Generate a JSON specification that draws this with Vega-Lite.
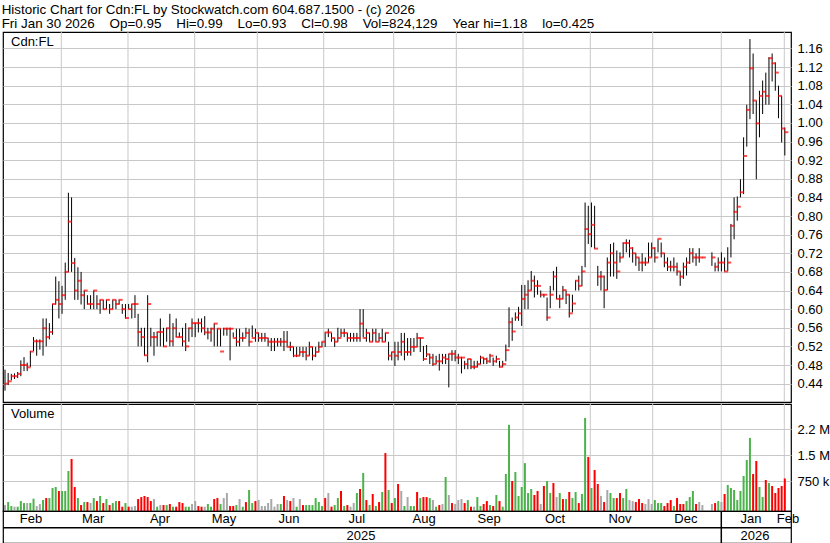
{
"$schema":"https://vega.github.io/schema/vega-lite/v6.json",
"padding":{"left":1,"top":2,"right":0,"bottom":0},
"background":"white",
"title":{"text":["Historic Chart for Cdn:FL by Stockwatch.com 604.687.1500 - (c) 2026","Fri Jan 30 2026 \u00a0\u00a0\u00a0Op=0.95 \u00a0\u00a0\u00a0Hi=0.99 \u00a0\u00a0\u00a0Lo=0.93 \u00a0\u00a0\u00a0Cl=0.98 \u00a0\u00a0\u00a0Vol=824,129 \u00a0\u00a0\u00a0Year hi=1.18 \u00a0\u00a0\u00a0lo=0.425"],"anchor":"start","font":"Liberation Sans","fontSize":13.4,"fontWeight":"normal","lineHeight":14,"color":"black","offset":1},
"config":{"view":{"stroke":"black","strokeWidth":1.2},"font":"Liberation Sans","axis":{"labelOverlap":false,"labelFontSize":13,"labelColor":"black","labelFont":"Liberation Sans","domain":false,"ticks":false,"gridColor":"#c8c8c8","gridWidth":1,"labelPadding":6,"title":null}},
"datasets":{
"grid":[{"g":17.76},{"g":38.80},{"g":59.84},{"g":79.59},{"g":100.54},{"g":122.62},{"g":142.37},{"g":163.41},{"g":184.64},{"g":204.32},{"g":225.96},{"g":245.84}],
"mlab":[{"m":8.2,"n":"Feb"},{"m":27.8,"n":"Mar"},{"m":48.9,"n":"Apr"},{"m":69.1,"n":"May"},{"m":89.6,"n":"Jun"},{"m":111.0,"n":"Jul"},{"m":132.2,"n":"Aug"},{"m":152.7,"n":"Sep"},{"m":173.5,"n":"Oct"},{"m":194.0,"n":"Nov"},{"m":214.8,"n":"Dec"},{"m":235.3,"n":"Jan"},{"m":247.0,"n":"Feb"}],
"ylab":[{"m":112.3,"n":"2025"},{"m":236.6,"n":"2026"}],
"bars":[
{"t":0,"l":0.425,"h":0.47,"c":0.44,"v":53000,"d":"n"},
{"t":1,"l":0.437,"h":0.463,"c":0.445,"v":140000,"d":"u"},
{"t":2,"l":0.447,"h":0.461,"c":0.456,"v":24000,"d":"u"},
{"t":3,"l":0.45,"h":0.462,"c":0.456,"v":5000,"d":"n"},
{"t":4,"l":0.452,"h":0.465,"c":0.461,"v":5000,"d":"u"},
{"t":5,"l":0.456,"h":0.49,"c":0.48,"v":169000,"d":"u"},
{"t":6,"l":0.467,"h":0.497,"c":0.48,"v":111000,"d":"u"},
{"t":7,"l":0.467,"h":0.485,"c":0.475,"v":111000,"d":"n"},
{"t":8,"l":0.476,"h":0.51,"c":0.509,"v":111000,"d":"u"},
{"t":9,"l":0.51,"h":0.54,"c":0.531,"v":237000,"d":"u"},
{"t":10,"l":0.5,"h":0.535,"c":0.531,"v":24000,"d":"n"},
{"t":11,"l":0.513,"h":0.535,"c":0.531,"v":82000,"d":"n"},
{"t":12,"l":0.5,"h":0.58,"c":0.559,"v":198000,"d":"u"},
{"t":13,"l":0.52,"h":0.58,"c":0.54,"v":256000,"d":"d"},
{"t":14,"l":0.535,"h":0.57,"c":0.551,"v":256000,"d":"u"},
{"t":15,"l":0.545,"h":0.611,"c":0.611,"v":547000,"d":"u"},
{"t":16,"l":0.61,"h":0.67,"c":0.62,"v":576000,"d":"u"},
{"t":17,"l":0.58,"h":0.66,"c":0.611,"v":460000,"d":"d"},
{"t":18,"l":0.59,"h":0.65,"c":0.63,"v":460000,"d":"u"},
{"t":19,"l":0.62,"h":0.7,"c":0.68,"v":460000,"d":"u"},
{"t":20,"l":0.68,"h":0.85,"c":0.788,"v":1040000,"d":"u"},
{"t":21,"l":0.68,"h":0.84,"c":0.699,"v":1390000,"d":"d"},
{"t":22,"l":0.62,"h":0.71,"c":0.64,"v":576000,"d":"d"},
{"t":23,"l":0.62,"h":0.69,"c":0.661,"v":256000,"d":"u"},
{"t":24,"l":0.61,"h":0.68,"c":0.63,"v":53000,"d":"d"},
{"t":25,"l":0.6,"h":0.64,"c":0.64,"v":140000,"d":"u"},
{"t":26,"l":0.61,"h":0.63,"c":0.611,"v":140000,"d":"d"},
{"t":27,"l":0.6,"h":0.63,"c":0.611,"v":111000,"d":"n"},
{"t":28,"l":0.6,"h":0.64,"c":0.64,"v":256000,"d":"u"},
{"t":29,"l":0.6,"h":0.63,"c":0.611,"v":169000,"d":"d"},
{"t":30,"l":0.59,"h":0.62,"c":0.62,"v":315000,"d":"u"},
{"t":31,"l":0.6,"h":0.62,"c":0.6,"v":111000,"d":"d"},
{"t":32,"l":0.6,"h":0.62,"c":0.62,"v":227000,"d":"u"},
{"t":33,"l":0.59,"h":0.611,"c":0.6,"v":53000,"d":"d"},
{"t":34,"l":0.6,"h":0.62,"c":0.62,"v":111000,"d":"u"},
{"t":35,"l":0.6,"h":0.62,"c":0.611,"v":169000,"d":"u"},
{"t":36,"l":0.61,"h":0.62,"c":0.62,"v":169000,"d":"d"},
{"t":37,"l":0.59,"h":0.611,"c":0.6,"v":5000,"d":"d"},
{"t":38,"l":0.58,"h":0.611,"c":0.581,"v":111000,"d":"u"},
{"t":39,"l":0.6,"h":0.611,"c":0.6,"v":5000,"d":"d"},
{"t":40,"l":0.58,"h":0.611,"c":0.611,"v":5000,"d":"n"},
{"t":41,"l":0.581,"h":0.63,"c":0.611,"v":24000,"d":"n"},
{"t":42,"l":0.52,"h":0.59,"c":0.551,"v":227000,"d":"d"},
{"t":43,"l":0.52,"h":0.56,"c":0.54,"v":285000,"d":"d"},
{"t":44,"l":0.5,"h":0.56,"c":0.501,"v":315000,"d":"d"},
{"t":45,"l":0.486,"h":0.63,"c":0.611,"v":285000,"d":"d"},
{"t":46,"l":0.52,"h":0.56,"c":0.54,"v":169000,"d":"d"},
{"t":47,"l":0.5,"h":0.551,"c":0.54,"v":227000,"d":"n"},
{"t":48,"l":0.52,"h":0.551,"c":0.551,"v":5000,"d":"u"},
{"t":49,"l":0.52,"h":0.58,"c":0.551,"v":53000,"d":"n"},
{"t":50,"l":0.52,"h":0.56,"c":0.52,"v":53000,"d":"d"},
{"t":51,"l":0.53,"h":0.56,"c":0.559,"v":53000,"d":"u"},
{"t":52,"l":0.52,"h":0.59,"c":0.531,"v":82000,"d":"d"},
{"t":53,"l":0.52,"h":0.57,"c":0.559,"v":5000,"d":"u"},
{"t":54,"l":0.54,"h":0.58,"c":0.54,"v":5000,"d":"d"},
{"t":55,"l":0.54,"h":0.55,"c":0.54,"v":140000,"d":"d"},
{"t":56,"l":0.52,"h":0.56,"c":0.531,"v":111000,"d":"d"},
{"t":57,"l":0.51,"h":0.57,"c":0.52,"v":5000,"d":"u"},
{"t":58,"l":0.53,"h":0.56,"c":0.559,"v":5000,"d":"u"},
{"t":59,"l":0.54,"h":0.58,"c":0.57,"v":82000,"d":"n"},
{"t":60,"l":0.54,"h":0.57,"c":0.57,"v":169000,"d":"n"},
{"t":61,"l":0.55,"h":0.58,"c":0.57,"v":24000,"d":"d"},
{"t":62,"l":0.55,"h":0.58,"c":0.559,"v":5000,"d":"d"},
{"t":63,"l":0.544,"h":0.585,"c":0.55,"v":5000,"d":"n"},
{"t":64,"l":0.535,"h":0.56,"c":0.55,"v":82000,"d":"u"},
{"t":65,"l":0.53,"h":0.56,"c":0.558,"v":5000,"d":"u"},
{"t":66,"l":0.52,"h":0.569,"c":0.569,"v":227000,"d":"d"},
{"t":67,"l":0.52,"h":0.558,"c":0.558,"v":256000,"d":"d"},
{"t":68,"l":0.52,"h":0.558,"c":0.509,"v":82000,"d":"u"},
{"t":69,"l":0.543,"h":0.56,"c":0.558,"v":256000,"d":"n"},
{"t":70,"l":0.543,"h":0.56,"c":0.558,"v":402000,"d":"n"},
{"t":71,"l":0.49,"h":0.56,"c":0.558,"v":24000,"d":"d"},
{"t":72,"l":0.54,"h":0.55,"c":0.538,"v":24000,"d":"d"},
{"t":73,"l":0.52,"h":0.558,"c":0.53,"v":53000,"d":"u"},
{"t":74,"l":0.52,"h":0.558,"c":0.538,"v":227000,"d":"n"},
{"t":75,"l":0.53,"h":0.55,"c":0.538,"v":5000,"d":"u"},
{"t":76,"l":0.54,"h":0.56,"c":0.549,"v":140000,"d":"d"},
{"t":77,"l":0.52,"h":0.558,"c":0.53,"v":489000,"d":"u"},
{"t":78,"l":0.54,"h":0.565,"c":0.538,"v":111000,"d":"u"},
{"t":79,"l":0.53,"h":0.558,"c":0.549,"v":169000,"d":"d"},
{"t":80,"l":0.53,"h":0.549,"c":0.538,"v":198000,"d":"n"},
{"t":81,"l":0.53,"h":0.549,"c":0.538,"v":24000,"d":"n"},
{"t":82,"l":0.53,"h":0.549,"c":0.538,"v":24000,"d":"n"},
{"t":83,"l":0.52,"h":0.538,"c":0.53,"v":111000,"d":"n"},
{"t":84,"l":0.51,"h":0.538,"c":0.53,"v":227000,"d":"n"},
{"t":85,"l":0.51,"h":0.538,"c":0.53,"v":5000,"d":"n"},
{"t":86,"l":0.52,"h":0.538,"c":0.53,"v":82000,"d":"n"},
{"t":87,"l":0.52,"h":0.538,"c":0.53,"v":82000,"d":"u"},
{"t":88,"l":0.51,"h":0.553,"c":0.53,"v":315000,"d":"d"},
{"t":89,"l":0.52,"h":0.553,"c":0.519,"v":198000,"d":"n"},
{"t":90,"l":0.51,"h":0.53,"c":0.519,"v":169000,"d":"d"},
{"t":91,"l":0.497,"h":0.519,"c":0.5,"v":256000,"d":"n"},
{"t":92,"l":0.497,"h":0.519,"c":0.5,"v":5000,"d":"u"},
{"t":93,"l":0.5,"h":0.519,"c":0.508,"v":227000,"d":"n"},
{"t":94,"l":0.497,"h":0.519,"c":0.508,"v":53000,"d":"d"},
{"t":95,"l":0.49,"h":0.519,"c":0.5,"v":53000,"d":"u"},
{"t":96,"l":0.5,"h":0.53,"c":0.519,"v":53000,"d":"u"},
{"t":97,"l":0.49,"h":0.519,"c":0.5,"v":53000,"d":"u"},
{"t":98,"l":0.497,"h":0.519,"c":0.508,"v":256000,"d":"u"},
{"t":99,"l":0.508,"h":0.53,"c":0.519,"v":140000,"d":"u"},
{"t":100,"l":0.519,"h":0.53,"c":0.53,"v":24000,"d":"u"},
{"t":101,"l":0.519,"h":0.55,"c":0.55,"v":256000,"d":"d"},
{"t":102,"l":0.54,"h":0.558,"c":0.55,"v":402000,"d":"n"},
{"t":103,"l":0.53,"h":0.549,"c":0.538,"v":5000,"d":"d"},
{"t":104,"l":0.519,"h":0.538,"c":0.53,"v":53000,"d":"u"},
{"t":105,"l":0.53,"h":0.56,"c":0.538,"v":256000,"d":"u"},
{"t":106,"l":0.54,"h":0.558,"c":0.549,"v":460000,"d":"d"},
{"t":107,"l":0.54,"h":0.558,"c":0.549,"v":24000,"d":"u"},
{"t":108,"l":0.53,"h":0.549,"c":0.538,"v":53000,"d":"d"},
{"t":109,"l":0.53,"h":0.549,"c":0.538,"v":5000,"d":"n"},
{"t":110,"l":0.53,"h":0.549,"c":0.538,"v":111000,"d":"n"},
{"t":111,"l":0.53,"h":0.549,"c":0.538,"v":402000,"d":"u"},
{"t":112,"l":0.53,"h":0.6,"c":0.569,"v":518000,"d":"d"},
{"t":113,"l":0.54,"h":0.6,"c":0.538,"v":982000,"d":"u"},
{"t":114,"l":0.53,"h":0.558,"c":0.549,"v":198000,"d":"d"},
{"t":115,"l":0.53,"h":0.549,"c":0.53,"v":53000,"d":"u"},
{"t":116,"l":0.53,"h":0.558,"c":0.549,"v":373000,"d":"d"},
{"t":117,"l":0.53,"h":0.558,"c":0.53,"v":24000,"d":"u"},
{"t":118,"l":0.53,"h":0.549,"c":0.538,"v":140000,"d":"d"},
{"t":119,"l":0.53,"h":0.558,"c":0.53,"v":431000,"d":"u"},
{"t":120,"l":0.53,"h":0.549,"c":0.549,"v":1560000,"d":"d"},
{"t":121,"l":0.49,"h":0.53,"c":0.5,"v":489000,"d":"u"},
{"t":122,"l":0.49,"h":0.508,"c":0.508,"v":111000,"d":"d"},
{"t":123,"l":0.478,"h":0.53,"c":0.5,"v":256000,"d":"u"},
{"t":124,"l":0.49,"h":0.53,"c":0.508,"v":663000,"d":"d"},
{"t":125,"l":0.5,"h":0.549,"c":0.53,"v":460000,"d":"n"},
{"t":126,"l":0.49,"h":0.549,"c":0.508,"v":24000,"d":"u"},
{"t":127,"l":0.5,"h":0.538,"c":0.508,"v":285000,"d":"n"},
{"t":128,"l":0.5,"h":0.538,"c":0.519,"v":24000,"d":"u"},
{"t":129,"l":0.508,"h":0.538,"c":0.519,"v":24000,"d":"u"},
{"t":130,"l":0.519,"h":0.549,"c":0.538,"v":431000,"d":"d"},
{"t":131,"l":0.508,"h":0.538,"c":0.538,"v":256000,"d":"u"},
{"t":132,"l":0.489,"h":0.521,"c":0.493,"v":285000,"d":"d"},
{"t":133,"l":0.497,"h":0.523,"c":0.503,"v":285000,"d":"d"},
{"t":134,"l":0.482,"h":0.504,"c":0.496,"v":256000,"d":"u"},
{"t":135,"l":0.478,"h":0.504,"c":0.482,"v":198000,"d":"n"},
{"t":136,"l":0.482,"h":0.5,"c":0.488,"v":5000,"d":"u"},
{"t":137,"l":0.468,"h":0.504,"c":0.488,"v":53000,"d":"d"},
{"t":138,"l":0.482,"h":0.504,"c":0.496,"v":82000,"d":"n"},
{"t":139,"l":0.482,"h":0.504,"c":0.493,"v":866000,"d":"u"},
{"t":140,"l":0.432,"h":0.504,"c":0.504,"v":344000,"d":"n"},
{"t":141,"l":0.489,"h":0.512,"c":0.504,"v":111000,"d":"d"},
{"t":142,"l":0.488,"h":0.512,"c":0.496,"v":82000,"d":"n"},
{"t":143,"l":0.482,"h":0.504,"c":0.496,"v":198000,"d":"n"},
{"t":144,"l":0.462,"h":0.497,"c":0.496,"v":227000,"d":"n"},
{"t":145,"l":0.471,"h":0.489,"c":0.482,"v":111000,"d":"d"},
{"t":146,"l":0.471,"h":0.493,"c":0.493,"v":198000,"d":"u"},
{"t":147,"l":0.471,"h":0.493,"c":0.476,"v":5000,"d":"d"},
{"t":148,"l":0.471,"h":0.489,"c":0.476,"v":5000,"d":"n"},
{"t":149,"l":0.475,"h":0.489,"c":0.482,"v":285000,"d":"u"},
{"t":150,"l":0.482,"h":0.5,"c":0.496,"v":24000,"d":"u"},
{"t":151,"l":0.482,"h":0.496,"c":0.493,"v":82000,"d":"d"},
{"t":152,"l":0.482,"h":0.496,"c":0.488,"v":169000,"d":"d"},
{"t":153,"l":0.485,"h":0.504,"c":0.5,"v":53000,"d":"u"},
{"t":154,"l":0.478,"h":0.496,"c":0.488,"v":24000,"d":"d"},
{"t":155,"l":0.485,"h":0.5,"c":0.493,"v":344000,"d":"u"},
{"t":156,"l":0.475,"h":0.489,"c":0.476,"v":169000,"d":"d"},
{"t":157,"l":0.476,"h":0.489,"c":0.482,"v":5000,"d":"u"},
{"t":158,"l":0.488,"h":0.524,"c":0.512,"v":953000,"d":"u"},
{"t":159,"l":0.518,"h":0.604,"c":0.572,"v":2380000,"d":"u"},
{"t":160,"l":0.532,"h":0.582,"c":0.552,"v":750000,"d":"d"},
{"t":161,"l":0.575,"h":0.593,"c":0.582,"v":1010000,"d":"u"},
{"t":162,"l":0.575,"h":0.605,"c":0.591,"v":315000,"d":"u"},
{"t":163,"l":0.564,"h":0.652,"c":0.622,"v":576000,"d":"u"},
{"t":164,"l":0.6,"h":0.652,"c":0.631,"v":1270000,"d":"u"},
{"t":165,"l":0.6,"h":0.662,"c":0.64,"v":402000,"d":"u"},
{"t":166,"l":0.64,"h":0.682,"c":0.661,"v":518000,"d":"u"},
{"t":167,"l":0.625,"h":0.672,"c":0.65,"v":344000,"d":"d"},
{"t":168,"l":0.631,"h":0.662,"c":0.65,"v":460000,"d":"d"},
{"t":169,"l":0.625,"h":0.64,"c":0.631,"v":82000,"d":"n"},
{"t":170,"l":0.625,"h":0.632,"c":0.631,"v":605000,"d":"d"},
{"t":171,"l":0.575,"h":0.625,"c":0.582,"v":750000,"d":"u"},
{"t":172,"l":0.602,"h":0.65,"c":0.631,"v":402000,"d":"u"},
{"t":173,"l":0.64,"h":0.682,"c":0.67,"v":692000,"d":"d"},
{"t":174,"l":0.622,"h":0.691,"c":0.622,"v":285000,"d":"n"},
{"t":175,"l":0.602,"h":0.631,"c":0.622,"v":402000,"d":"u"},
{"t":176,"l":0.622,"h":0.65,"c":0.641,"v":227000,"d":"d"},
{"t":177,"l":0.611,"h":0.64,"c":0.631,"v":227000,"d":"u"},
{"t":178,"l":0.582,"h":0.632,"c":0.591,"v":431000,"d":"d"},
{"t":179,"l":0.593,"h":0.631,"c":0.612,"v":256000,"d":"u"},
{"t":180,"l":0.64,"h":0.662,"c":0.661,"v":431000,"d":"u"},
{"t":181,"l":0.64,"h":0.672,"c":0.65,"v":111000,"d":"d"},
{"t":182,"l":0.65,"h":0.693,"c":0.681,"v":373000,"d":"u"},
{"t":183,"l":0.69,"h":0.829,"c":0.772,"v":2580000,"d":"u"},
{"t":184,"l":0.74,"h":0.822,"c":0.761,"v":1450000,"d":"d"},
{"t":185,"l":0.733,"h":0.829,"c":0.781,"v":547000,"d":"u"},
{"t":186,"l":0.73,"h":0.822,"c":0.73,"v":1070000,"d":"d"},
{"t":187,"l":0.65,"h":0.693,"c":0.67,"v":663000,"d":"d"},
{"t":188,"l":0.64,"h":0.682,"c":0.67,"v":315000,"d":"n"},
{"t":189,"l":0.602,"h":0.672,"c":0.641,"v":140000,"d":"d"},
{"t":190,"l":0.641,"h":0.711,"c":0.7,"v":489000,"d":"n"},
{"t":191,"l":0.67,"h":0.74,"c":0.72,"v":402000,"d":"u"},
{"t":192,"l":0.67,"h":0.743,"c":0.7,"v":256000,"d":"u"},
{"t":193,"l":0.665,"h":0.726,"c":0.681,"v":256000,"d":"d"},
{"t":194,"l":0.7,"h":0.722,"c":0.711,"v":402000,"d":"d"},
{"t":195,"l":0.711,"h":0.743,"c":0.742,"v":256000,"d":"u"},
{"t":196,"l":0.722,"h":0.75,"c":0.742,"v":518000,"d":"u"},
{"t":197,"l":0.711,"h":0.749,"c":0.731,"v":198000,"d":"n"},
{"t":198,"l":0.7,"h":0.733,"c":0.72,"v":169000,"d":"n"},
{"t":199,"l":0.693,"h":0.72,"c":0.711,"v":140000,"d":"d"},
{"t":200,"l":0.682,"h":0.711,"c":0.7,"v":227000,"d":"d"},
{"t":201,"l":0.681,"h":0.72,"c":0.7,"v":111000,"d":"d"},
{"t":202,"l":0.693,"h":0.711,"c":0.7,"v":82000,"d":"n"},
{"t":203,"l":0.7,"h":0.743,"c":0.711,"v":227000,"d":"n"},
{"t":204,"l":0.711,"h":0.743,"c":0.731,"v":82000,"d":"n"},
{"t":205,"l":0.7,"h":0.733,"c":0.711,"v":198000,"d":"u"},
{"t":206,"l":0.722,"h":0.75,"c":0.751,"v":111000,"d":"u"},
{"t":207,"l":0.711,"h":0.743,"c":0.72,"v":111000,"d":"u"},
{"t":208,"l":0.69,"h":0.72,"c":0.7,"v":24000,"d":"d"},
{"t":209,"l":0.682,"h":0.711,"c":0.691,"v":111000,"d":"d"},
{"t":210,"l":0.681,"h":0.704,"c":0.691,"v":198000,"d":"d"},
{"t":211,"l":0.681,"h":0.711,"c":0.691,"v":24000,"d":"u"},
{"t":212,"l":0.672,"h":0.7,"c":0.681,"v":256000,"d":"d"},
{"t":213,"l":0.65,"h":0.681,"c":0.67,"v":82000,"d":"d"},
{"t":214,"l":0.665,"h":0.7,"c":0.691,"v":82000,"d":"d"},
{"t":215,"l":0.672,"h":0.711,"c":0.7,"v":169000,"d":"u"},
{"t":216,"l":0.697,"h":0.731,"c":0.72,"v":285000,"d":"u"},
{"t":217,"l":0.7,"h":0.731,"c":0.711,"v":460000,"d":"u"},
{"t":218,"l":0.693,"h":0.72,"c":0.711,"v":82000,"d":"d"},
{"t":219,"l":0.7,"h":0.731,"c":0.711,"v":140000,"d":"n"},
{"t":220,"l":0.711,"h":0.711,"c":0.711,"v":53000,"d":"n"},
{"t":223,"l":0.693,"h":0.722,"c":0.711,"v":82000,"d":"n"},
{"t":224,"l":0.681,"h":0.7,"c":0.691,"v":111000,"d":"d"},
{"t":225,"l":0.681,"h":0.711,"c":0.7,"v":169000,"d":"u"},
{"t":226,"l":0.681,"h":0.722,"c":0.7,"v":140000,"d":"n"},
{"t":227,"l":0.681,"h":0.711,"c":0.681,"v":373000,"d":"d"},
{"t":228,"l":0.682,"h":0.733,"c":0.7,"v":634000,"d":"u"},
{"t":229,"l":0.711,"h":0.783,"c":0.779,"v":547000,"d":"u"},
{"t":230,"l":0.75,"h":0.84,"c":0.809,"v":489000,"d":"u"},
{"t":231,"l":0.79,"h":0.842,"c":0.82,"v":198000,"d":"u"},
{"t":232,"l":0.84,"h":0.879,"c":0.851,"v":460000,"d":"u"},
{"t":233,"l":0.847,"h":0.969,"c":0.929,"v":895000,"d":"u"},
{"t":234,"l":0.949,"h":1.039,"c":1.028,"v":1360000,"d":"u"},
{"t":235,"l":1.008,"h":1.18,"c":1.117,"v":2000000,"d":"u"},
{"t":236,"l":1.019,"h":1.149,"c":1.048,"v":953000,"d":"d"},
{"t":237,"l":0.879,"h":1.048,"c":0.999,"v":1330000,"d":"d"},
{"t":238,"l":0.969,"h":1.069,"c":1.058,"v":576000,"d":"u"},
{"t":239,"l":1.019,"h":1.091,"c":1.067,"v":285000,"d":"u"},
{"t":240,"l":1.039,"h":1.108,"c":1.058,"v":779000,"d":"d"},
{"t":241,"l":1.039,"h":1.141,"c":1.139,"v":692000,"d":"u"},
{"t":242,"l":1.089,"h":1.149,"c":1.128,"v":605000,"d":"d"},
{"t":243,"l":1.069,"h":1.13,"c":1.108,"v":402000,"d":"d"},
{"t":244,"l":1.01,"h":1.08,"c":1.058,"v":547000,"d":"d"},
{"t":245,"l":0.958,"h":1.058,"c":0.988,"v":605000,"d":"d"},
{"t":246,"l":0.93,"h":0.99,"c":0.98,"v":824129,"d":"d"}
]},
"spacing":2,
"bounds":"flush",
"vconcat":[
{"width":788,"height":370,
"layer":[
{"data":{"name":"grid"},"mark":{"type":"rule","color":"#c8c8c8","strokeWidth":1},
"encoding":{"x":{"field":"g","type":"quantitative","scale":{"domain":[-0.631,247.95],"nice":false,"zero":false},"axis":null}}},
{"data":{"name":"bars"},"mark":{"type":"rule","color":"black","strokeWidth":1},
"encoding":{"x":{"field":"t","type":"quantitative"},
"y":{"field":"l","type":"quantitative","scale":{"domain":[0.4006,1.1952],"nice":false,"zero":false},
"axis":{"orient":"right","values":[0.44,0.48,0.52,0.56,0.6,0.64,0.68,0.72,0.76,0.8,0.84,0.88,0.92,0.96,1.0,1.04,1.08,1.12,1.16],"tickCount":40,"format":".2f","grid":true,"labelOverlap":false}},
"y2":{"field":"h"}}},
{"data":{"name":"bars"},"mark":{"type":"tick","orient":"horizontal","color":"#ff0000","size":4,"thickness":2,"xOffset":1.5},
"encoding":{"x":{"field":"t","type":"quantitative"},"y":{"field":"c","type":"quantitative"}}},
{"data":{"values":[{"s":"Cdn:FL"}]},"mark":{"type":"text","align":"left","baseline":"middle","fontSize":13,"color":"black","font":"Liberation Sans"},
"encoding":{"x":{"datum":1.9},"y":{"datum":1.173},"text":{"field":"s"}}}
]},
{"spacing":0,"bounds":"flush","vconcat":[
{"width":788,"height":107,
"layer":[
{"data":{"name":"grid"},"mark":{"type":"rule","color":"#c8c8c8","strokeWidth":1},
"encoding":{"x":{"field":"g","type":"quantitative","scale":{"domain":[-0.631,247.95],"nice":false,"zero":false},"axis":null}}},
{"data":{"name":"bars"},"mark":{"type":"rule","strokeWidth":2},
"encoding":{"x":{"field":"t","type":"quantitative"},
"y":{"field":"v","type":"quantitative","scale":{"domain":[-120000,2984000],"nice":false,"zero":false},
"axis":{"orient":"right","values":[750000,1500000,2250000],"tickCount":10,"labelExpr":"datum.value == 750000 ? '750 k' : datum.value == 1500000 ? '1.5 M' : '2.2 M'","grid":true,"labelOverlap":false}},
"y2":{"datum":-120000},
"color":{"field":"d","type":"nominal","scale":{"domain":["u","d","n"],"range":["#4cb34c","#ff0000","#a8a8a8"]},"legend":null}}},
{"data":{"values":[{"s":"Volume"}]},"mark":{"type":"text","align":"left","baseline":"middle","fontSize":13,"color":"black","font":"Liberation Sans"},
"encoding":{"x":{"datum":1.9},"y":{"datum":2694000},"text":{"field":"s"}}}
]},
{"width":788,"height":32,
"layer":[
{"data":{"name":"mlab"},"mark":{"type":"text","align":"center","baseline":"middle","fontSize":13,"color":"black","font":"Liberation Sans"},
"encoding":{"x":{"field":"m","type":"quantitative","scale":{"domain":[-0.631,247.95],"nice":false,"zero":false},"axis":null},
"y":{"datum":1.47,"type":"quantitative","scale":{"domain":[0,2],"nice":false,"zero":false},"axis":null},"text":{"field":"n"}}},
{"data":{"name":"ylab"},"mark":{"type":"text","align":"center","baseline":"middle","fontSize":13,"color":"black","font":"Liberation Sans"},
"encoding":{"x":{"field":"m","type":"quantitative"},"y":{"datum":0.44},"text":{"field":"n"}}},
{"data":{"values":[{"s":1}]},"mark":{"type":"rule","color":"black","strokeWidth":1.5},
"encoding":{"y":{"datum":0.956}}},
{"data":{"values":[{"s":1}]},"mark":{"type":"rule","color":"black","strokeWidth":1.5},
"encoding":{"x":{"datum":225.96}}}
]}
]}
]
}
